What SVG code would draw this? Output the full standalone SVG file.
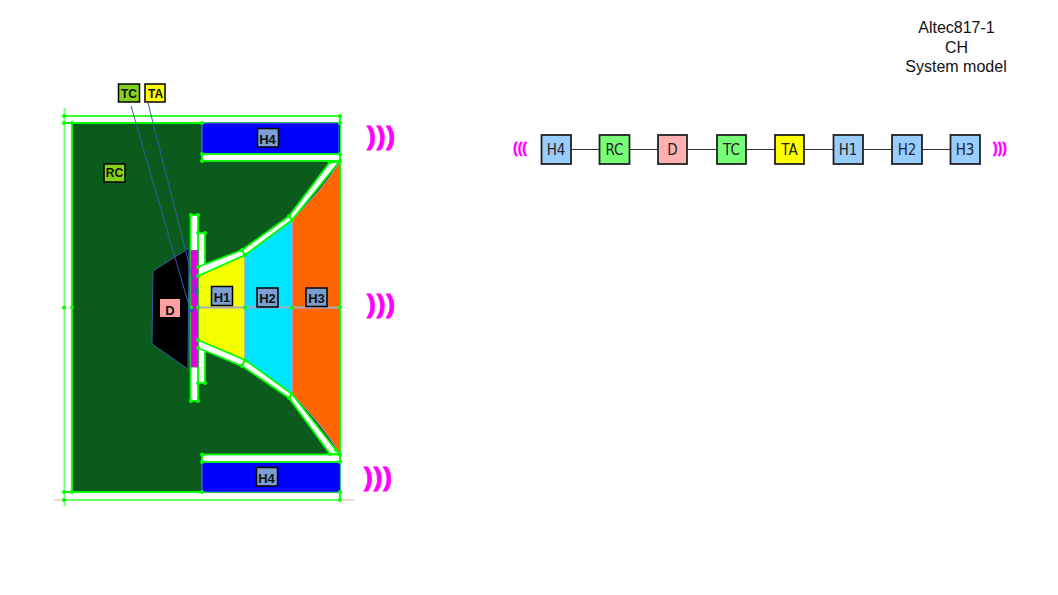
<svg xmlns="http://www.w3.org/2000/svg" width="1058" height="595" viewBox="0 0 1058 595">
<style>
.t{font-family:"Liberation Sans",Arial,sans-serif}
.title{font-size:16px;text-anchor:middle;fill:#111}
.w{fill:#fff;stroke:#00ff00;stroke-width:1.8}
.l{font-family:"Liberation Sans",Arial,sans-serif;font-weight:700;font-size:12px;text-anchor:middle;fill:#111}
.lb{stroke:#000;stroke-width:1.5;fill:#7a9fd0}
.lg{stroke:#000;stroke-width:1.5;fill:#84d01a}
.wave{font-family:"Liberation Sans",Arial,sans-serif;font-weight:700;fill:#ff00ff;stroke:#ff00ff}
.n rect{stroke:#222;stroke-width:1.8}
.n text{font-family:"DejaVu Sans",sans-serif;font-stretch:condensed;font-size:15px;text-anchor:middle;fill:#222}
.c{stroke:#333;stroke-width:1.2;fill:none}
.d{fill:#00ff00}
.p{stroke:#2f5fa8;stroke-width:1;fill:none}
</style>
<g id="cabinet">
<path d="M64 116H340V123H72V492H340V500H64z" fill="#fff"/>
<line x1="64.500" y1="108" x2="64.500" y2="506" stroke="#77ff77" stroke-width="2"/>
<line x1="54" y1="500" x2="354" y2="500" stroke="#f2a0a0" stroke-width="1"/>
<line x1="64" y1="500" x2="340" y2="500" stroke="#66ff66" stroke-width="2"/>
<line x1="64" y1="116" x2="340" y2="116" stroke="#33ff33" stroke-width="2"/>
<rect id="RC-volume" x="72" y="123" width="268" height="369" fill="#0b5c1c"/>
<path d="M64 123H340M72 123V492H340M64 492H72M340 116V500" fill="none" stroke="#00ff00" stroke-width="1.8"/>
</g>
<g id="H4-top"><rect x="202" y="123" width="137" height="31" fill="#0000ff" stroke="#5a78c8"/><line x1="339.500" y1="123" x2="339.500" y2="154" stroke="#333"/><rect class="w" x="202" y="154" width="138" height="7"/></g>
<g id="H4-bottom"><rect x="202" y="462" width="138" height="30" fill="#0000ff" stroke="#5a78c8"/><line x1="339.500" y1="462" x2="339.500" y2="492" stroke="#333"/><rect class="w" x="202" y="454.500" width="138" height="7.500"/></g>
<g id="horn">
<rect class="w" x="198" y="233" width="7" height="150"/>
<path d="M292 220Q322 190 340 162V454Q322 424 292 394z" fill="#ff6600"/>
<path d="M245 255L292 220V394L245 360z" fill="#00e5ff"/>
<path d="M198 276L245 255V360L198 340z" fill="#f5ff00"/>
<path d="M198 307.500H340" stroke="#a8a8c8" stroke-width="2" fill="none"/>
<path d="M245 255V360M292 220V394" stroke="#a0a0d8" stroke-width="1.500" fill="none"/>
<path d="M292 220Q322 190 340 162M292 394Q322 424 340 454" stroke="#8fa0d8" fill="none"/>
<path class="w" d="M198 267L242 250L245 255L198 276z"/>
<path class="w" d="M198 348L242 366L245 360L198 340z"/>
<path class="w" d="M242 250L289 216L292 220L245 255z"/>
<path class="w" d="M242 366L289 398L292 394L245 360z"/>
<path class="w" d="M289 216L330 162L339 162L292 220z"/>
<path class="w" d="M289 398L330 454L339 454L292 394z"/>
<rect class="w" x="190.500" y="215" width="7.500" height="186"/>
</g>
<g id="driver">
<path d="M153 271L189 248L188 369L152 344z" fill="#000" stroke="#2f5fa8"/>
<rect x="191" y="250.500" width="7" height="116.500" fill="#e000e0" stroke="#666" stroke-width="1"/>
</g>
<g id="dots" class="d">
<circle cx="64" cy="116" r="2"/><circle cx="340" cy="116" r="2"/><circle cx="64" cy="123" r="2"/><circle cx="72" cy="123" r="2"/><circle cx="202" cy="123" r="2"/><circle cx="340" cy="123" r="2"/><circle cx="202" cy="154" r="2"/><circle cx="340" cy="154" r="2"/><circle cx="202" cy="161" r="2"/><circle cx="330" cy="162" r="2"/><circle cx="340" cy="161" r="2"/><circle cx="289" cy="216" r="2"/><circle cx="292" cy="220" r="2"/><circle cx="242" cy="250" r="2"/><circle cx="245" cy="255" r="2"/><circle cx="198" cy="267" r="2"/><circle cx="198" cy="276" r="2"/><circle cx="205" cy="233" r="2"/><circle cx="198" cy="233" r="2"/><circle cx="191" cy="215" r="2"/><circle cx="198" cy="215" r="2"/><circle cx="191" cy="307.500" r="2"/><circle cx="198" cy="307.500" r="2"/><circle cx="245" cy="307.500" r="2"/><circle cx="292" cy="307.500" r="2"/><circle cx="340" cy="307.500" r="2"/><circle cx="64" cy="307.500" r="2"/><circle cx="72" cy="307.500" r="2"/><circle cx="198" cy="340" r="2"/><circle cx="198" cy="348" r="2"/><circle cx="245" cy="360" r="2"/><circle cx="242" cy="366" r="2"/><circle cx="205" cy="383" r="2"/><circle cx="198" cy="383" r="2"/><circle cx="191" cy="401" r="2"/><circle cx="198" cy="401" r="2"/><circle cx="289" cy="398" r="2"/><circle cx="292" cy="394" r="2"/><circle cx="330" cy="454" r="2"/><circle cx="336" cy="450" r="2"/><circle cx="340" cy="454.500" r="2"/><circle cx="202" cy="454.500" r="2"/><circle cx="202" cy="462" r="2"/><circle cx="340" cy="462" r="2"/><circle cx="202" cy="492" r="2"/><circle cx="340" cy="492" r="2"/><circle cx="340" cy="500" r="2"/><circle cx="64" cy="492" r="2"/><circle cx="72" cy="492" r="2"/><circle cx="64" cy="500" r="2"/>
</g>
<g id="pointers">
<line class="p" x1="131" y1="106" x2="190" y2="309"/>
<line class="p" x1="148" y1="103" x2="196" y2="292"/>
<path d="M189 308L196 310.500L189 313z" fill="#2f5fa8"/>
<path d="M193 289H199L196 296z" fill="#2f5fa8"/>
</g>
<g id="label-TC"><rect class="lg" x="118.500" y="84" width="21" height="18"/><text class="l" x="129" y="97.500">TC</text></g>
<g id="label-TA"><rect x="145" y="84" width="20" height="18" fill="#ffff00" stroke="#000" stroke-width="1.500"/><text class="l" x="155.500" y="97.500">TA</text></g>
<g id="label-RC"><rect class="lg" x="104" y="164" width="21" height="18"/><text class="l" x="114.500" y="177">RC</text></g>
<g id="label-D"><rect x="160" y="299" width="20" height="18" fill="#ffa0a0"/><text class="l" x="170" y="315" style="font-size:13px">D</text></g>
<g id="label-H1"><rect class="lb" x="211.500" y="286.500" width="21" height="19"/><text class="l" x="222" y="302" style="font-size:13px">H1</text></g>
<g id="label-H2"><rect class="lb" x="257" y="288" width="21" height="19"/><text class="l" x="267.500" y="303" style="font-size:13px">H2</text></g>
<g id="label-H3"><rect class="lb" x="306" y="288" width="21" height="18.500"/><text class="l" x="316.500" y="303" style="font-size:13px">H3</text></g>
<g id="label-H4-top"><rect class="lb" x="257.500" y="128.500" width="21" height="18.500"/><text class="l" x="267.500" y="143.500" style="font-size:13px">H4</text></g>
<g id="label-H4-bottom"><rect class="lb" x="256.500" y="467.500" width="21" height="18.500"/><text class="l" x="266.500" y="482.500" style="font-size:13px">H4</text></g>
<g id="waves">
<text class="wave" x="367" y="145" font-size="26" letter-spacing="1">)))</text>
<text class="wave" x="367" y="313" font-size="26" letter-spacing="1">)))</text>
<text class="wave" x="364" y="486" font-size="26" letter-spacing="1">)))</text>
<text class="wave" x="513" y="153" font-size="14" stroke-width=".5">(((</text>
<text class="wave" x="993" y="153" font-size="14" stroke-width=".5">)))</text>
</g>
<g id="connectors">
<path class="c" d="M571 149.500H599M630 149.500H658M687 149.500H717M746 149.500H775M804 149.500H833M863 149.500H892M922 149.500H950"/>
</g>
<g id="n-H4" class="n"><rect x="541.500" y="135" width="29.500" height="29" fill="#99ccff"/><text x="556" y="155">H4</text></g>
<g id="n-RC" class="n"><rect x="599.500" y="135" width="30" height="29" fill="#77ff77"/><text x="614.500" y="155">RC</text></g>
<g id="n-D" class="n"><rect x="658" y="135" width="29" height="29" fill="#ffb0b0"/><text x="672.500" y="155">D</text></g>
<g id="n-TC" class="n"><rect x="717" y="135" width="29" height="29" fill="#77ff77"/><text x="731.500" y="155">TC</text></g>
<g id="n-TA" class="n"><rect x="775" y="135" width="29" height="29" fill="#ffff00"/><text x="789.500" y="155">TA</text></g>
<g id="n-H1" class="n"><rect x="833.500" y="135" width="29.500" height="29" fill="#99ccff"/><text x="848" y="155">H1</text></g>
<g id="n-H2" class="n"><rect x="892" y="135" width="30" height="29" fill="#99ccff"/><text x="907" y="155">H2</text></g>
<g id="n-H3" class="n"><rect x="950.500" y="135" width="29.500" height="29" fill="#99ccff"/><text x="965" y="155">H3</text></g>
<g id="title">
<text class="t title" x="956.500" y="33">Altec817-1</text>
<text class="t title" x="956.500" y="53">CH</text>
<text class="t title" x="956" y="72">System model</text>
</g>
</svg>
